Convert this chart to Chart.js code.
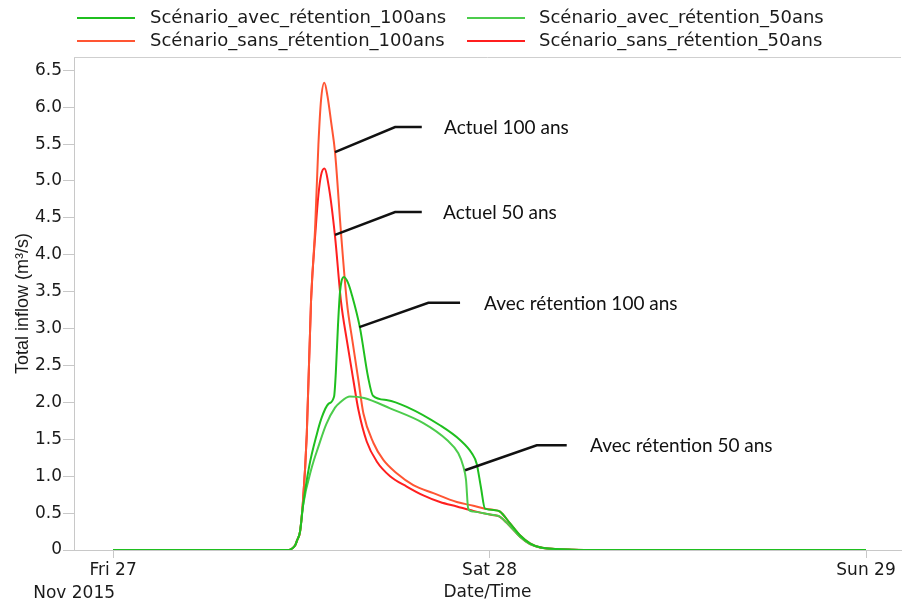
<!DOCTYPE html>
<html>
<head>
<meta charset="utf-8">
<script src="https://cdn.jsdelivr.net/npm/chart.js@4.4.0/dist/chart.umd.min.js"></script>
<style>
  html, body { margin: 0; padding: 0; background: #fff; }
</style>
</head>
<body>
<canvas id="flowChart" width="902" height="603"></canvas>
<script>
// heures depuis Fri 27 Nov 2015 00:00, débit en m3/s
const avec100Hours = [0, 11.2, 11.41, 11.6, 11.73, 11.92, 12.11, 12.49, 12.99, 13.31, 13.73, 14.09, 14.2, 14.34, 14.47, 14.72, 14.98, 15.22, 15.74, 16.26, 16.57, 17.5, 18.72, 20.84, 22.12, 22.87, 23.18, 23.45, 23.71, 24.35, 24.67, 25.31, 25.94, 26.58, 27.22, 28.28, 29.32, 31, 48];
const avec100Flow = [0, 0, 0.02, 0.06, 0.13, 0.25, 0.6, 1.12, 1.57, 1.80, 1.98, 2.08, 2.4, 3.05, 3.5, 3.70, 3.62, 3.46, 3.01, 2.34, 2.09, 2.03, 1.94, 1.69, 1.49, 1.31, 1.17, 0.85, 0.56, 0.54, 0.52, 0.36, 0.20, 0.09, 0.037, 0.013, 0.004, 0, 0];

const avec50Hours = [0, 11.2, 11.41, 11.6, 11.73, 11.92, 12.11, 12.67, 13.09, 13.58, 14.15, 14.47, 15.1, 16.0, 17.66, 19.78, 21.29, 22.01, 22.33, 22.5, 22.64, 22.97, 24.03, 24.35, 24.67, 25.31, 25.94, 26.58, 27.22, 28.28, 29.32, 31, 48];
const avec50Flow = [0, 0, 0.02, 0.06, 0.13, 0.25, 0.6, 1.12, 1.40, 1.70, 1.93, 2.0, 2.08, 2.06, 1.92, 1.72, 1.49, 1.31, 1.13, 0.95, 0.56, 0.52, 0.48, 0.47, 0.45, 0.32, 0.18, 0.08, 0.035, 0.012, 0.003, 0, 0];

const sans100Hours = [0, 11.2, 11.41, 11.6, 11.73, 11.92, 12.11, 12.35, 12.62, 12.88, 13.09, 13.26, 13.47, 13.67, 13.9, 14.15, 14.53, 14.9, 15.27, 15.64, 15.96, 16.6, 17.23, 18.08, 19.14, 20.42, 21.91, 22.97, 23.71, 24.35, 24.67, 25.31, 25.94, 26.58, 27.22, 28.28, 29.32, 31, 48];
const sans100Flow = [0, 0, 0.02, 0.06, 0.13, 0.25, 0.67, 1.57, 3.37, 4.36, 5.49, 6.1, 6.33, 6.15, 5.8, 5.39, 4.3, 3.37, 2.82, 2.30, 1.85, 1.45, 1.22, 1.04, 0.88, 0.77, 0.65, 0.60, 0.56, 0.54, 0.52, 0.36, 0.20, 0.09, 0.037, 0.013, 0.004, 0, 0];

const sans50Hours = [0, 11.2, 11.41, 11.6, 11.73, 11.92, 12.11, 12.35, 12.62, 12.92, 13.09, 13.26, 13.47, 13.77, 14.15, 14.53, 14.92, 15.32, 15.64, 16.17, 16.81, 17.66, 18.72, 19.78, 20.84, 21.91, 22.97, 24.03, 24.35, 24.67, 25.31, 25.94, 26.58, 27.22, 28.28, 29.32, 31, 48];
const sans50Flow = [0, 0, 0.02, 0.06, 0.13, 0.25, 0.67, 1.57, 3.37, 4.36, 4.81, 5.08, 5.17, 4.9, 4.25, 3.37, 2.82, 2.30, 1.90, 1.47, 1.20, 1.00, 0.86, 0.74, 0.65, 0.59, 0.53, 0.48, 0.47, 0.45, 0.32, 0.18, 0.08, 0.035, 0.012, 0.003, 0, 0];

const seriesNames = ['Scénario_avec_rétention_100ans', 'Scénario_avec_rétention_50ans', 'Scénario_sans_rétention_100ans', 'Scénario_sans_rétention_50ans'];

const tickHours = [0, 24, 48];
const tickLabels = ['Fri 27', 'Sat 28', 'Sun 29'];
const monthLabel = 'Nov 2015';
const yTicks = [0, 0.5, 1, 1.5, 2, 2.5, 3, 3.5, 4, 4.5, 5, 5.5, 6, 6.5];

// étiquettes : point sur la courbe, coude, fin du trait (heures, débit)
const noteTexts = ['Actuel 100 ans', 'Actuel 50 ans', 'Avec rétention 100 ans', 'Avec rétention 50 ans'];
const notePaths = [
    [[14.15, 5.39], [17.98, 5.73], [19.68, 5.73]],
    [[14.15, 4.27], [17.98, 4.58], [19.68, 4.58]],
    [[15.7, 3.02], [20.10, 3.35], [22.12, 3.35]],
    [[22.44, 1.08], [27.01, 1.42], [28.92, 1.42]]
];
const noteTextHours = [21.1, 21.04, 23.65, 30.41];

const colors = ['#1fbf1f', '#4ccc4c', '#ff5533', '#ff1f1f'];

function toPoints(hours, flow) {
    return hours.map((h, i) => ({ x: h, y: flow[i] }));
}

const seriesData = [
    toPoints(avec100Hours, avec100Flow),
    toPoints(avec50Hours, avec50Flow),
    toPoints(sans100Hours, sans100Flow),
    toPoints(sans50Hours, sans50Flow)
];

Chart.defaults.font.family = 'DejaVu Sans';
Chart.defaults.font.size = 17;
Chart.defaults.color = '#1a1a1a';

// cadre du haut
const framePlugin = {
    id: 'frame',
    beforeDatasetsDraw(chart) {
        const a = chart.chartArea;
        const ctx = chart.ctx;
        ctx.save();
        ctx.strokeStyle = '#cfcfcf';
        ctx.lineWidth = 1;
        ctx.beginPath();
        ctx.moveTo(a.left, a.top + 0.5);
        ctx.lineTo(a.right, a.top + 0.5);
        ctx.stroke();
        ctx.restore();
    }
};

// légende en deux colonnes
const legendPlugin = {
    id: 'twoColLegend',
    afterDraw(chart) {
        const ctx = chart.ctx;
        const lineX = [77, 467];
        const textX = [150, 539];
        const rowY = [18, 41];
        ctx.save();
        ctx.font = '18px "DejaVu Sans"';
        ctx.textBaseline = 'middle';
        chart.data.datasets.forEach((ds, i) => {
            const col = i % 2, row = Math.floor(i / 2);
            ctx.strokeStyle = ds.borderColor;
            ctx.lineWidth = 2;
            ctx.beginPath();
            ctx.moveTo(lineX[col], rowY[row]);
            ctx.lineTo(lineX[col] + 58, rowY[row]);
            ctx.stroke();
            ctx.fillStyle = '#1a1a1a';
            ctx.fillText(ds.label, textX[col], rowY[row]);
        });
        ctx.restore();
    }
};

// traits et textes des annotations + "Nov 2015"
const notesPlugin = {
    id: 'notes',
    afterDraw(chart) {
        const ctx = chart.ctx;
        const xs = chart.scales.x, ys = chart.scales.y;
        ctx.save();
        ctx.strokeStyle = '#111';
        ctx.lineWidth = 2.5;
        ctx.fillStyle = '#111';
        ctx.font = '19px Lato';
        ctx.textBaseline = 'middle';
        notePaths.forEach((path, i) => {
            ctx.beginPath();
            path.forEach((p, j) => {
                const px = xs.getPixelForValue(p[0]), py = ys.getPixelForValue(p[1]);
                if (j === 0) ctx.moveTo(px, py); else ctx.lineTo(px, py);
            });
            ctx.stroke();
            const last = path[path.length - 1];
            ctx.fillText(noteTexts[i], xs.getPixelForValue(noteTextHours[i]), ys.getPixelForValue(last[1]) + 1);
        });
        ctx.font = '17px "DejaVu Sans"';
        ctx.fillStyle = '#1a1a1a';
        ctx.textAlign = 'right';
        ctx.fillText(monthLabel, xs.getPixelForValue(tickHours[0]) + 2, 594);
        ctx.restore();
    }
};

const ctx = document.getElementById('flowChart').getContext('2d');
new Chart(ctx, {
    type: 'line',
    data: {
        datasets: seriesData.map((pts, i) => ({
            label: seriesNames[i],
            data: pts,
            borderColor: colors[i],
            backgroundColor: colors[i],
            borderWidth: 2,
            pointRadius: 0,
            fill: false,
            cubicInterpolationMode: 'monotone'
        }))
    },
    options: {
        responsive: false,
        animation: false,
        layout: { padding: { top: 57, right: 1, left: 0, bottom: 0 } },
        plugins: {
            legend: { display: false },
            tooltip: { enabled: false }
        },
        scales: {
            x: {
                type: 'linear',
                min: -2.49,
                max: 50.23,
                afterBuildTicks: (scale) => { scale.ticks = tickHours.map(v => ({ value: v })); },
                afterFit: (scale) => { scale.height = 53; },
                ticks: {
                    padding: 2,
                    maxRotation: 0,
                    autoSkip: false,
                    callback: (v) => tickLabels[tickHours.indexOf(v)]
                },
                grid: { drawOnChartArea: false, tickLength: 8, color: '#c8c8c8' },
                border: { color: '#c8c8c8' },
                title: { display: true, text: 'Date/Time', padding: { top: 0, bottom: 0 } }
            },
            y: {
                min: 0,
                max: 6.68,
                afterBuildTicks: (scale) => { scale.ticks = yTicks.map(v => ({ value: v })); },
                afterFit: (scale) => { scale.width = 74; },
                ticks: {
                    padding: 1,
                    callback: (v) => v === 0 ? '0' : v.toFixed(1)
                },
                grid: { drawOnChartArea: false, tickLength: 11, color: '#c8c8c8' },
                border: { color: '#c8c8c8' },
                title: {
                    display: true,
                    text: 'Total inflow (m³/s)',
                    font: { family: 'Liberation Sans', size: 18 },
                    padding: { top: 12, bottom: 0 }
                }
            }
        }
    },
    plugins: [framePlugin, legendPlugin, notesPlugin]
});
</script>
</body>
</html>
